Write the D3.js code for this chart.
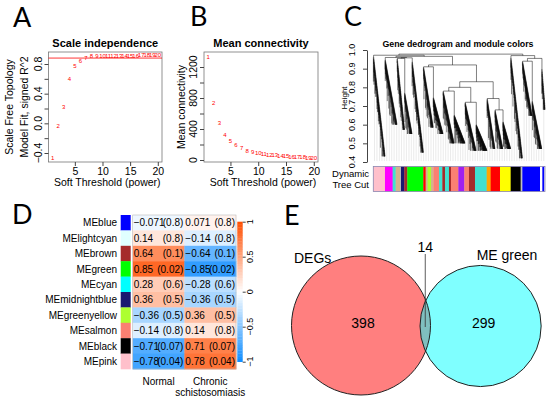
<!DOCTYPE html>
<html><head><meta charset="utf-8">
<script src="https://cdn.jsdelivr.net/npm/d3@7"></script>
<style>
body{margin:0;background:#fff}
svg{display:block}
text{font-family:"Liberation Sans",Arial,sans-serif;fill:#000}
</style>
</head><body>
<svg id="chart" width="550" height="401"></svg>
<script>
// ---------------- DATA ----------------
const powers = [1,2,3,4,5,6,7,8,9,10,11,12,13,14,15,16,17,18,19,20];
const scaleFitR2 = [-0.46,-0.03,0.215,0.6,0.78,0.84,0.88,0.905,0.905,0.91,0.91,0.91,0.915,0.915,0.915,0.915,0.92,0.92,0.92,0.92];
const r2Cutoff = 0.88;
const meanConnectivity = [1330,735,475,320,250,190,150,120,100,86,78,70,62,55,50,45,40,36,33,30];
const softTicks = [5,10,15,20];
const r2Ticks = [-0.4,-0.2,0,0.2,0.4,0.6,0.8];
const r2Labels = [-0.4,0,0.4,0.8];
const kTicks = [0,200,400,600,800,1000,1200];
const kLabels = [0,400,800,1200];

// module colour bar (colour, number of genes in relative units)
const moduleBar = [["#FFC0CB",35],["#FF00FF",23],["#40E0D0",9],["#D2B48C",13],["#BEBEBE",3],["#191970",10],["#A52A2A",9],
  ["#00FF00",48],["#FF0000",7],["#D2B48C",6],["#ADFF2F",10],["#D2B48C",7],["#FA8072",17],["#40E0D0",10],["#A52A2A",8],
  ["#40E0D0",12],["#A52A2A",6],["#FA8072",22],["#A020F0",18],["#FA8072",14],["#A52A2A",18],["#40E0D0",35],["#FFA500",12],
  ["#FF0000",28],["#FFFF00",32],["#000000",30],["#BEBEBE",5],["#0000FF",53],["#FFFFFF",7],["#0000FF",6],["#FFFFFF",2]];
// dendrogram main branches: [first gene, last gene, merge height, lowest leaf height]
const branches = [[0,35,0.965,0.43],[35,71,0.95,0.6],[71,116,0.955,0.55],[116,150,0.94,0.45],[150,209,0.91,0.55],
  [209,275,0.78,0.5],[275,341,0.72,0.46],[341,412,0.74,0.47],[412,447,0.96,0.42],[447,505,0.94,0.47],[505,515,0.9,0.68]];
const branchMerges = {h:0.978,c:[
  {h:0.972,c:[0,{h:0.966,c:[{h:0.96,c:[1,{h:0.958,c:[2,3]}]},{h:0.92,c:[4,{h:0.83,c:[{h:0.80,c:[5,6]},7]}]}]}]},
  {h:0.97,c:[8,{h:0.955,c:[9,10]}]}]};
const heightTicks = [0.4,0.5,0.6,0.7,0.8,0.9,1.0];

const modules = ["MEblue","MElightcyan","MEbrown","MEgreen","MEcyan","MEmidnightblue","MEgreenyellow","MEsalmon","MEblack","MEpink"];
const moduleColors = ["#0000FF","#E0FFFF","#A52A2A","#00FF00","#00FFFF","#191970","#ADFF2F","#FA8072","#000000","#FFC0CB"];
const traits = ["Normal","Chronic schistosomiasis"];
const corNormal = [-0.071,0.14,0.64,0.85,0.28,0.36,-0.36,-0.14,-0.71,-0.78];
const corChronic = [0.071,-0.14,-0.64,-0.85,-0.28,-0.36,0.36,0.14,0.71,0.78];
const pNormal = ["0.8","0.8","0.1","0.02","0.6","0.5","0.5","0.8","0.07","0.04"];
const pChronic = ["0.8","0.8","0.1","0.02","0.6","0.5","0.5","0.8","0.07","0.04"];
const legendTicks = [-1,-0.5,0,0.5,1];

const vennSets = ["DEGs","ME green"];
const vennOnly = [398,299];
const vennBoth = 14;

// ---------------- DRAW ----------------
const svg = d3.select("#chart");
const fmtMinus = s => String(s).replace("-","\u2212");

function letter(t,x,y){
  svg.append("text").attr("x",x).attr("y",y).attr("font-size",27).style("font-family","Lato, 'Open Sans', sans-serif").text(t);
}
letter("A",13,27); letter("B",190,26); letter("C",344,26); letter("D",12,224); letter("E",284,225);

function scatterPanel(o){
  const g = svg.append("g");
  const x = d3.scaleLinear().domain([0.24,20.76]).range([o.x0,o.x1]);
  const y = d3.scaleLinear().domain(o.yDom).range(o.yRng);
  g.append("rect").attr("x",o.x0).attr("y",52).attr("width",o.x1-o.x0).attr("height",110)
    .attr("fill","none").attr("stroke","#777").attr("stroke-width",0.8);
  const ax = g.append("g").attr("transform",`translate(0,162)`)
    .call(d3.axisBottom(x).tickValues(softTicks).tickSize(4).tickPadding(2).tickFormat(d3.format("d")));
  ax.select(".domain").remove();
  ax.selectAll("text").attr("font-size",10.5).style("font-family","'Liberation Sans',Arial,sans-serif");
  ax.selectAll("line").attr("stroke","#444");
  const ay = g.append("g").attr("transform",`translate(${o.x0},0)`)
    .call(d3.axisLeft(y).tickValues(o.ticks).tickSize(4).tickFormat(""));
  ay.select(".domain").remove();
  ay.selectAll("line").attr("stroke","#444");
  g.selectAll(".yl").data(o.labels).join("text")
    .attr("transform",d=>`translate(${o.x0-7},${y(d)}) rotate(-90)`)
    .attr("text-anchor","middle").attr("font-size",10.5).text(o.fmt);
  g.append("text").attr("x",(o.x0+o.x1)/2).attr("y",47).attr("text-anchor","middle")
    .attr("font-size",11).attr("font-weight","bold").text(o.title);
  g.append("text").attr("x",(o.x0+o.x1)/2+2).attr("y",186).attr("text-anchor","middle")
    .attr("font-size",10.5).text("Soft Threshold (power)");
  o.ylab.forEach((t,i)=>{
    g.append("text").attr("transform",`translate(${o.ylabX[i]},107) rotate(-90)`)
      .attr("text-anchor","middle").attr("font-size",10.5).text(t);
  });
  if (o.hline!==undefined){
    g.append("line").attr("x1",o.x0).attr("x2",o.x1).attr("y1",y(o.hline)).attr("y2",y(o.hline))
      .attr("stroke","#FF0000").attr("stroke-width",0.8);
  }
  g.selectAll(".pt").data(powers).join("text")
    .attr("x",d=>x(d)).attr("y",(d,i)=>y(o.vals[i])).attr("dy","0.35em")
    .attr("text-anchor","middle").attr("font-size",6).style("fill","#FF0000").text(d=>d);
}

scatterPanel({x0:48.5,x1:162,yDom:[-0.4,0.8],yRng:[153,64],ticks:r2Ticks,labels:r2Labels,
  fmt:d=>d3.format(".1f")(d),title:"Scale independence",vals:scaleFitR2,hline:r2Cutoff,
  ylab:["Scale Free Topology","Model Fit, signed R^2"],ylabX:[13,28]});
scatterPanel({x0:204,x1:318,yDom:[0,1200],yRng:[160,67],ticks:kTicks,labels:kLabels,
  fmt:d=>d,title:"Mean connectivity",vals:meanConnectivity,
  ylab:["Mean connectivity"],ylabX:[185]});

// ---- Panel C : dendrogram ----
(function(){
  const g = svg.append("g");
  const total = d3.sum(moduleBar,d=>d[1]);
  const x = d3.scaleLinear().domain([0,total]).range([373.3,545]);
  const y = d3.scaleLinear().domain([0.4,1.0]).range([162,50]);
  let path = "";
  const leaves = [];
  const frac = v => v-Math.floor(v);
  function elbow(L,R,h){
    path += `M${x(L.x).toFixed(2)},${y(L.h).toFixed(2)}V${y(h).toFixed(2)}H${x(R.x).toFixed(2)}V${y(R.h).toFixed(2)}`;
  }
  function merge(L,R,h){ elbow(L,R,h); return {x:(L.x+R.x)/2,h}; }
  function leaf(u,h){ const l={x:u,h}; leaves.push(l); return l; }
  // a strand: chain of leaves descending diagonally from H to low
  function strand(a,w,H,low,seed){
    const m = Math.max(3,Math.round(w*1.8));
    let node = leaf(a+w*(m-0.5)/m, low);
    for (let j=m-2;j>=0;j--){
      const Mh = H-(H-low)*(j/(m-1));
      const hang = 0.02+0.06*frac(j*0.618+seed)+(frac(j*0.37+seed*1.7)>0.8?0.08:0);
      const lf = leaf(a+w*(j+0.5)/m, Math.max(low, Mh-hang));
      node = merge(lf,node,Mh);
    }
    return node;
  }
  // a main branch: staircase of strands
  function branch(bi){
    const [u0,u1,top,bot] = branches[bi];
    const n = Math.max(1,Math.round((u1-u0)/28));
    const w = (u1-u0)/n;
    const parts = [];
    for (let k=0;k<n;k++){
      const t = n===1 ? 0 : k/(n-1);
      const H = top-(top-bot)*0.45*t;
      const reach = 0.22+0.22*frac(k*0.618+bi*0.37);
      const low = k===n-1 ? bot : Math.max(bot, H-reach);
      parts.push({a:u0+k*w,H,low});
    }
    let p = parts[n-1];
    let node = strand(p.a,w,p.H-0.004,p.low,bi+0.5);
    for (let k=n-2;k>=0;k--){
      p = parts[k];
      node = merge(strand(p.a,w,p.H-0.004,p.low,bi+k*0.29),node,p.H);
    }
    return node;
  }
  function walk(node){
    if (typeof node==="number") return branch(node);
    const kids = node.c.map(walk);
    return merge(kids[0],kids[1],node.h);
  }
  walk(branchMerges);
  leaves.sort((a,b)=>a.x-b.x);
  // guide lines
  const guides = d3.range(70).map(k=>{
    const u = total*(k+0.5)/70;
    return leaves[d3.bisector(l=>l.x).center(leaves,u)];
  });
  g.selectAll(".guide").data(guides).join("line")
    .attr("x1",d=>x(d.x)).attr("x2",d=>x(d.x)).attr("y1",d=>y(d.h)).attr("y2",y(0.405))
    .attr("stroke","#d6d6d6").attr("stroke-width",0.5);
  g.append("path").attr("d",path).attr("fill","none").attr("stroke","#000").attr("stroke-width",0.5);
  // axis
  const ay = g.append("g").attr("transform","translate(367,0)")
    .call(d3.axisLeft(y).tickValues(heightTicks).tickSize(4).tickSizeOuter(0).tickFormat(""));
  ay.selectAll("line,path").attr("stroke","#444");
  g.selectAll(".hl").data(heightTicks).join("text")
    .attr("transform",d=>`translate(355,${y(d)}) rotate(-90)`).attr("text-anchor","middle")
    .attr("font-size",9).text(d=>d3.format(".1f")(d));
  g.append("text").attr("transform","translate(347,98) rotate(-90)").attr("text-anchor","middle")
    .attr("font-size",8).text("Height");
  g.append("text").attr("x",458).attr("y",47).attr("text-anchor","middle").attr("font-size",8.8)
    .attr("font-weight","bold").text("Gene dedrogram and module colors");
  // colour bar
  let acc = 0;
  const segs = moduleBar.map(d=>{const s={c:d[0],a:acc,b:acc+d[1]}; acc+=d[1]; return s;});
  g.selectAll(".seg").data(segs).join("rect")
    .attr("x",d=>x(d.a)).attr("width",d=>x(d.b)-x(d.a)+0.3).attr("y",166.5).attr("height",25)
    .attr("fill",d=>d.c);
  g.append("rect").attr("x",x(0)).attr("y",166.5).attr("width",x(total)-x(0)).attr("height",25)
    .attr("fill","none").attr("stroke","#8a86b0").attr("stroke-width",0.8);
  g.append("text").attr("x",369).attr("y",177).attr("text-anchor","end").attr("font-size",9.5).text("Dynamic");
  g.append("text").attr("x",369).attr("y",188).attr("text-anchor","end").attr("font-size",9.5).text("Tree Cut");
})();

// ---- Panel D : module-trait heatmap ----
(function(){
  const g = svg.append("g");
  const x = d3.scaleBand().domain(traits).range([132.7,236]);
  const y = d3.scaleBand().domain(modules).range([215,369]);
  const col = d3.scaleLinear().domain([-1,0,1]).range(["#0D8CFF","#FFFFFF","#FF4D00"]).interpolate(d3.interpolateRgb);
  const cells = [];
  modules.forEach((m,i)=>{
    cells.push({t:traits[0],m,v:corNormal[i],p:pNormal[i]});
    cells.push({t:traits[1],m,v:corChronic[i],p:pChronic[i]});
  });
  g.selectAll(".cell").data(cells).join("rect")
    .attr("x",d=>x(d.t)).attr("y",d=>y(d.m)).attr("width",x.bandwidth()+0.4).attr("height",y.bandwidth()+0.4)
    .attr("fill",d=>col(d.v));
  g.append("rect").attr("x",132.7).attr("y",215).attr("width",236-132.7).attr("height",154)
    .attr("fill","none").attr("stroke","#bbb").attr("stroke-width",0.6);
  g.selectAll(".v").data(cells).join("text")
    .attr("x",d=>x(d.t)+1).attr("y",d=>y(d.m)+y.bandwidth()/2).attr("dy","0.36em")
    .attr("font-size",10).text(d=>fmtMinus(d.v));
  g.selectAll(".p").data(cells).join("text")
    .attr("x",d=>x(d.t)+x.bandwidth()-1).attr("y",d=>y(d.m)+y.bandwidth()/2).attr("dy","0.36em")
    .attr("text-anchor","end").attr("font-size",10).text(d=>`(${d.p})`);
  g.selectAll(".sw").data(modules).join("rect")
    .attr("x",120.7).attr("width",10).attr("y",d=>y(d)).attr("height",y.bandwidth()+0.3)
    .attr("fill",(d,i)=>moduleColors[i]);
  g.selectAll(".ml").data(modules).join("text")
    .attr("x",117).attr("y",d=>y(d)+y.bandwidth()/2).attr("dy","0.36em").attr("text-anchor","end")
    .attr("font-size",10).text(d=>d);
  g.append("text").attr("x",x(traits[0])+x.bandwidth()/2).attr("y",385).attr("text-anchor","middle")
    .attr("font-size",10).text(traits[0]);
  const t2 = traits[1].split(" ");
  t2.forEach((w,i)=>g.append("text").attr("x",x(traits[1])+x.bandwidth()/2).attr("y",385+11*i)
    .attr("text-anchor","middle").attr("font-size",10).text(w));
  // legend
  const ly = d3.scaleLinear().domain([-1,1]).range([361.7,221.7]);
  const steps = d3.range(-1,1,0.04);
  g.selectAll(".lg").data(steps).join("rect")
    .attr("x",237.3).attr("width",5.4).attr("y",d=>ly(d+0.04)).attr("height",ly(-1)-ly(-0.96)+0.3)
    .attr("fill",d=>col(d+0.02));
  const al = g.append("g").attr("transform","translate(242.7,0)")
    .call(d3.axisRight(ly).tickValues(legendTicks).tickSize(3).tickFormat(""));
  al.select(".domain").remove();
  al.selectAll("line").attr("stroke","#444");
  g.selectAll(".lt").data(legendTicks).join("text")
    .attr("transform",d=>`translate(253,${ly(d)}) rotate(-90)`).attr("text-anchor","middle")
    .attr("font-size",9).text(d=>fmtMinus(d));
})();

// ---- Panel E : Venn ----
(function(){
  const g = svg.append("g");
  const r = d3.scaleSqrt().domain([0,vennOnly[0]+vennBoth]).range([0,69.5]);
  const rA = r(vennOnly[0]+vennBoth), rB = r(vennOnly[1]+vennBoth);
  const cA = [361,325.5], cB = [cA[0]+rA+rB-10.5,326];
  g.append("circle").attr("cx",cA[0]).attr("cy",cA[1]).attr("r",rA).attr("fill","#FF0000").attr("fill-opacity",0.5);
  g.append("circle").attr("cx",cB[0]).attr("cy",cB[1]).attr("r",rB).attr("fill","#00FFFF").attr("fill-opacity",0.5);
  [[cA,rA],[cB,rB]].forEach(([c,rr])=>g.append("circle").attr("cx",c[0]).attr("cy",c[1]).attr("r",rr)
    .attr("fill","none").attr("stroke","#222").attr("stroke-width",1));
  g.append("text").attr("x",cA[0]+2).attr("y",328).attr("text-anchor","middle").attr("font-size",14).text(vennOnly[0]);
  g.append("text").attr("x",cB[0]+3).attr("y",328).attr("text-anchor","middle").attr("font-size",14).text(vennOnly[1]);
  const mid = (cA[0]+rA + cB[0]-rB)/2;
  g.append("line").attr("x1",mid).attr("x2",mid).attr("y1",254).attr("y2",327).attr("stroke","#333").attr("stroke-width",0.8);
  g.append("text").attr("x",mid).attr("y",252).attr("text-anchor","middle").attr("font-size",14).text(vennBoth);
  g.append("text").attr("x",294).attr("y",263).attr("font-size",14).text(vennSets[0]);
  g.append("text").attr("x",507).attr("y",260).attr("text-anchor","middle").attr("font-size",14).text(vennSets[1]);
})();
</script>
</body></html>
